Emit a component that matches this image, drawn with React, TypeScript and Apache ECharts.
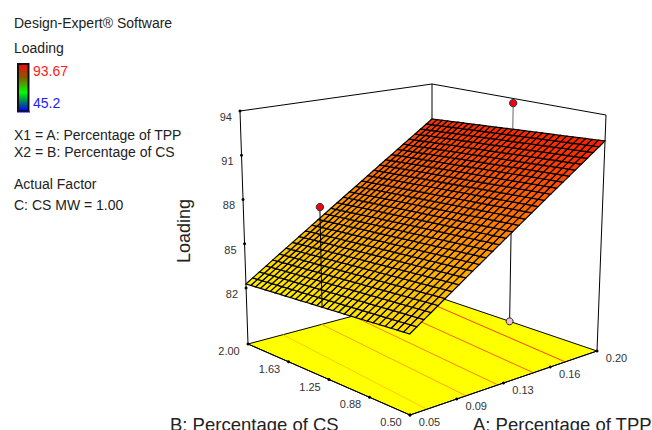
import React, { useEffect, useRef } from "react";
import * as echarts from "echarts";

// ---- data ----
const aRange = [0.05, 0.2];
const bRange = [0.5, 2.0];
const zFloor = 78.2;
const zTop = 94;
const aTicks = [0.05, 0.0875, 0.125, 0.1625, 0.2];
const aTickLabels = ["0.05", "0.09", "0.13", "0.16", "0.20"];
const bTicks = [2.0, 1.625, 1.25, 0.875, 0.5];
const bTickLabels = ["2.00", "1.63", "1.25", "0.88", "0.50"];
const zTicks = [94, 91, 88, 85, 82];
const zTickLabels = ["94", "91", "88", "85", "82"];
// fitted response surface: Loading at the four corners of the design space
const zAtA05B2 = 82.27;
const zAtA20B2 = 91.38;
const zAtA05B05 = 83.05;
const zAtA20B05 = 92.26;
const meshCells = 30;
// floor contours: level, A where it meets B=0.50, A where it meets B=2.00
const contourLevels = [84.0, 85.7, 87.4, 89.0, 90.7];
const contourAatBlow = [0.0635, 0.095, 0.1205, 0.149, 0.1745];
const contourAatBhigh = [0.0785, 0.11, 0.1355, 0.164, 0.1895];
// design points
const pointA = [0.05, 0.2];
const pointB = [1.25, 1.25];
const pointZ = [89.05, 93.67];
const legendMax = 93.67;
const legendMin = 45.2;

// ---- palette (Design-Expert blue-cyan-green-yellow-red) ----
const paletteStops: [number, number[]][] = [
  [0, [0, 0, 255]],
  [0.25, [0, 255, 255]],
  [0.5, [0, 255, 0]],
  [0.75, [255, 255, 0]],
  [1, [255, 0, 0]],
];
function colorOf(z: number): string {
  const t = Math.max(0, Math.min(1, (z - legendMin) / (legendMax - legendMin)));
  for (let i = 1; i < paletteStops.length; i++) {
    if (t <= paletteStops[i][0]) {
      const [t0, c0] = paletteStops[i - 1];
      const [t1, c1] = paletteStops[i];
      const k = (t - t0) / (t1 - t0);
      const c = c0.map((v, n) => Math.round(v + (c1[n] - v) * k));
      return `rgb(${c[0]},${c[1]},${c[2]})`;
    }
  }
  return "rgb(255,0,0)";
}

// ---- camera: quad-to-plane perspective for the floor and lid of the box ----
type Q = number[][];
function homography(q: Q) {
  const [[x0, y0], [x1, y1], [x2, y2], [x3, y3]] = q;
  const dx1 = x1 - x2, dx2 = x3 - x2, sx = x0 - x1 + x2 - x3;
  const dy1 = y1 - y2, dy2 = y3 - y2, sy = y0 - y1 + y2 - y3;
  const den = dx1 * dy2 - dx2 * dy1;
  const g = (sx * dy2 - dx2 * sy) / den;
  const h = (dx1 * sy - sx * dy1) / den;
  const a = x1 - x0 + g * x1, b = x3 - x0 + h * x3;
  const d = y1 - y0 + g * y1, e = y3 - y0 + h * y3;
  return (u: number, v: number) => {
    const w = g * u + h * v + 1;
    return [(a * u + b * v + x0) / w, (d * u + e * v + y0) / w];
  };
}
const floorH = homography([[248, 344], [432, 295], [597, 351], [410, 415]]);
const lidH = homography([[240, 111], [432, 84], [606, 115], [409, 151]]);

function project(A: number, B: number, z: number): number[] {
  const u = (A - aRange[0]) / (aRange[1] - aRange[0]);
  const v = (bRange[1] - B) / (bRange[1] - bRange[0]);
  const f = floorH(u, v);
  const l = lidH(u, v);
  const t = (z - zFloor) / (zTop - zFloor);
  return [f[0] + (l[0] - f[0]) * t, f[1] + (l[1] - f[1]) * t];
}
const lerp2 = (p: number[], q: number[], k: number) => [p[0] + (q[0] - p[0]) * k, p[1] + (q[1] - p[1]) * k];
// positions along a floor edge: the reference spaces its ticks evenly on screen
const alongA = (A: number, B: number) =>
  lerp2(project(aRange[0], B, zFloor), project(aRange[1], B, zFloor), (A - aRange[0]) / (aRange[1] - aRange[0]));
const alongB = (A: number, B: number) =>
  lerp2(project(A, bRange[1], zFloor), project(A, bRange[0], zFloor), (bRange[1] - B) / (bRange[1] - bRange[0]));

function surfaceZ(A: number, B: number): number {
  const u = (A - aRange[0]) / (aRange[1] - aRange[0]);
  const v = (bRange[1] - B) / (bRange[1] - bRange[0]);
  return (
    zAtA05B2 * (1 - u) * (1 - v) +
    zAtA20B2 * u * (1 - v) +
    zAtA05B05 * (1 - u) * v +
    zAtA20B05 * u * v
  );
}

const FONT = '"Liberation Sans", Arial, sans-serif';
const INK = "#000";

function layer(name: string, z: number, build: (pt: (p: number[]) => number[]) => any[]) {
  return {
    type: "custom",
    name,
    z,
    silent: true,
    coordinateSystem: "cartesian2d",
    clip: false,
    data: [[0, 0]],
    renderItem: (_p: any, api: any) => ({
      type: "group",
      children: build((p) => api.coord(p)),
    }),
  };
}
const seg = (a: number[], b: number[], stroke = INK, lineWidth = 1) => ({
  type: "line",
  shape: { x1: a[0], y1: a[1], x2: b[0], y2: b[1] },
  style: { stroke, lineWidth },
});
const label = (p: number[], text: string, align = "center") => ({
  type: "text",
  x: p[0],
  y: p[1],
  style: {
    text,
    fill: "#333",
    font: `11px ${FONT}`,
    align,
    verticalAlign: "middle",
  },
});
const dot = (p: number[], r = 1.5) => ({
  type: "circle",
  shape: { cx: p[0], cy: p[1], r },
  style: { fill: INK },
});

function buildOption(): any {
  const [a0, a1] = aRange;
  const [b0, b1] = bRange;
  return {
    animation: false,
    grid: { left: 0, right: 0, top: 0, bottom: 0 },
    xAxis: { type: "value", min: 0, max: 652, show: false },
    yAxis: { type: "value", min: 0, max: 430, inverse: true, show: false },
    graphic: [
      ...[
        ["Design-Expert® Software", 23],
        ["Loading", 48],
        ["X1 = A: Percentage of TPP", 135],
        ["X2 = B: Percentage of CS", 152],
        ["Actual Factor", 184],
        ["C: CS MW = 1.00", 205],
      ].map(([text, y]) => ({
        type: "text",
        left: 14,
        top: (y as number) - 7,
        style: { text, fill: "#222", font: `14px ${FONT}` },
      })),
      { type: "text", left: 33, top: 64, style: { text: String(legendMax), fill: "#ff2020", font: `14px ${FONT}` } },
      { type: "text", left: 33, top: 96, style: { text: String(legendMin), fill: "#2020ff", font: `14px ${FONT}` } },
      {
        type: "rect",
        shape: { x: 18, y: 64, width: 10.5, height: 47 },
        style: {
          fill: {
            type: "linear", x: 0, y: 0, x2: 0, y2: 1,
            colorStops: [
              { offset: 0, color: "#ff0000" },
              { offset: 0.3, color: "#806000" },
              { offset: 0.6, color: "#00ff00" },
              { offset: 0.8, color: "#008060" },
              { offset: 1, color: "#0000ff" },
            ],
          },
          stroke: "#111",
          lineWidth: 2,
        },
      },
      { type: "line", shape: { x1: 17, y1: 112, x2: 30, y2: 112 }, style: { stroke: "#0000ff", lineWidth: 1 } },
      {
        type: "text",
        x: 184, y: 231, rotation: Math.PI / 2,
        style: { text: "Loading", fill: "#222", font: `18px ${FONT}`, align: "center", verticalAlign: "middle" },
      },
      { type: "text", x: 170, y: 415, style: { text: "B: Percentage of CS", fill: "#222", font: `18.5px ${FONT}` } },
      { type: "text", x: 473, y: 415, style: { text: "A: Percentage of TPP", fill: "#222", font: `18.5px ${FONT}` } },
    ],
    series: [
      layer("floor", 2, (pt) => [
        {
          type: "polygon",
          shape: {
            points: [
              pt(project(a0, b1, zFloor)),
              pt(project(a1, b1, zFloor)),
              pt(project(a1, b0, zFloor)),
              pt(project(a0, b0, zFloor)),
            ],
          },
          style: { fill: "#ffff00", stroke: INK, lineWidth: 1 },
        },
      ]),
      layer("contours", 3, (pt) =>
        contourLevels.map((lv, i) =>
          seg(pt(alongA(contourAatBlow[i], b0)), pt(alongA(contourAatBhigh[i], b1)), colorOf(lv), 1)
        )
      ),
      layer("box", 4, (pt) => {
        const lid = (A: number, B: number) => pt(project(A, B, zTop));
        const base = (A: number, B: number) => pt(project(A, B, zFloor));
        return [
          seg(lid(a0, b1), lid(a1, b1)),
          seg(lid(a1, b1), lid(a1, b0)),
          seg(lid(a0, b1), base(a0, b1)),
          seg(lid(a1, b1), base(a1, b1)),
          seg(lid(a1, b0), base(a1, b0)),
          seg(base(a0, b1), base(a0, b0)),
          seg(base(a0, b0), base(a1, b0)),
        ];
      }),
      layer("ticks", 5, (pt) => [
        ...aTicks.map((A, i) => {
          const p = pt(alongA(A, b0));
          return label([p[0] + 19.5, p[1] + 7], aTickLabels[i]);
        }),
        ...aTicks.map((A) => dot(pt(alongA(A, b0)))),
        ...bTicks.map((B, i) => {
          const p = pt(alongB(a0, B));
          return label([p[0] - 19, p[1] + 7], bTickLabels[i]);
        }),
        ...bTicks.map((B) => dot(pt(alongB(a0, B)))),
        ...zTicks.map((Z, i) => {
          const p = pt(project(a0, b1, Z));
          return label([p[0] - 8, p[1] + 6], zTickLabels[i], "right");
        }),
        ...zTicks.map((Z) => dot(pt(project(a0, b1, Z)))),
      ]),
      layer("floorPoint", 6, (pt) => {
        const A = pointA[1], B = pointB[1];
        const bottom = pt(project(A, B, zFloor));
        const top = pt(project(A, B, surfaceZ(A, B)));
        return [
          seg(bottom, top),
          {
            type: "circle",
            shape: { cx: bottom[0], cy: bottom[1], r: 3.5 },
            style: { fill: "#f0c0d0", stroke: "#222", lineWidth: 1 },
          },
        ];
      }),
      layer("surface", 7, (pt) => {
        const cells: any[] = [];
        const q = (i: number, j: number) => {
          const A = a0 + ((a1 - a0) * i) / meshCells;
          const B = b0 + ((b1 - b0) * j) / meshCells;
          return { p: pt(project(A, B, surfaceZ(A, B))), z: surfaceZ(A, B) };
        };
        for (let i = 0; i < meshCells; i++) {
          for (let j = 0; j < meshCells; j++) {
            const c = [q(i, j), q(i + 1, j), q(i + 1, j + 1), q(i, j + 1)];
            const zMean = (c[0].z + c[1].z + c[2].z + c[3].z) / 4;
            cells.push({
              type: "polygon",
              shape: { points: c.map((k) => k.p) },
              style: { fill: colorOf(zMean), stroke: "#000", lineWidth: 1.2 },
            });
          }
        }
        return cells;
      }),
      layer("points", 8, (pt) => {
        const out: any[] = [];
        pointA.forEach((A, i) => {
          const B = pointB[i];
          const head = pt(project(A, B, pointZ[i]));
          const foot = pt(project(A, B, surfaceZ(A, B)));
          out.push(seg(head, foot, i === 1 ? "#666" : INK));
          out.push({
            type: "circle",
            shape: { cx: head[0], cy: head[1], r: 3.7 },
            style: { fill: "#f00010", stroke: "#333", lineWidth: 1 },
          });
        });
        return out;
      }),
    ],
  };
}

export default function App() {
  const ref = useRef<HTMLDivElement>(null);
  useEffect(() => {
    document.body.style.margin = "0";
    const chart = echarts.init(ref.current!, undefined, { renderer: "svg" });
    chart.setOption(buildOption());
    return () => chart.dispose();
  }, []);
  return <div ref={ref} style={{ position: "absolute", left: 0, top: 0, width: 652, height: 430, background: "#fff" }} />;
}
